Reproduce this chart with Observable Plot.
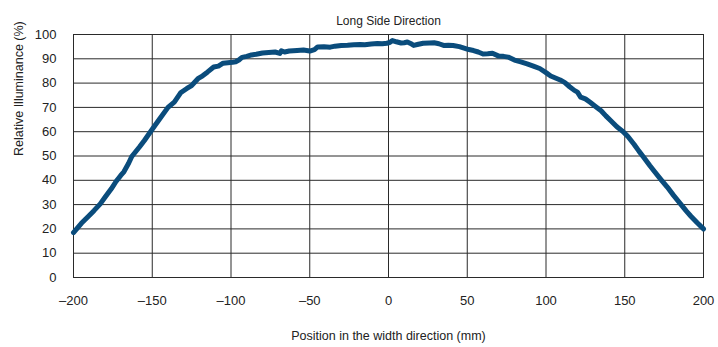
<!DOCTYPE html>
<html>
<head>
<meta charset="utf-8">
<script src="https://cdn.jsdelivr.net/npm/d3@7"></script>
<script src="https://cdn.jsdelivr.net/npm/@observablehq/plot@0.6"></script>
<style>
  body { margin: 0; background: #fff; }
  svg { font-family: "Liberation Sans", Arial, sans-serif; }
</style>
</head>
<body>
<div id="chart"></div>
<script>
const title = "Long Side Direction";
const xLabel = "Position in the width direction (mm)";
const yLabel = "Relative Illuminance (%)";
const xTicks = [-200, -150, -100, -50, 0, 50, 100, 150, 200];
const yTicks = [0, 10, 20, 30, 40, 50, 60, 70, 80, 90, 100];

const positions = [-200,-195,-190,-187,-183,-180,-176,-173,-170,-168,-165,-163,-158,-155,-150,-145,-140,-136,-132,-128,-125,-121,-118,-115,-111,-108,-105,-102,-99,-97,-95,-93,-90,-87,-84,-80,-76,-72,-69,-68,-66,-63,-58,-54,-50,-47,-45,-41,-37,-34,-30,-26,-22,-18,-15,-11,-7,-4,-1,1,2.5,5,8,10,12,14,16,19,22,26,29,32,35,38,41,45,48,51,54,57,60,63,66,70,73,76,80,84,88,92,96,100,103,106,109,112,115,118,120,122,125,128,131,135,138,141,145,149,152,156,159,162,166,169,173,177,181,185,189,192,196,200];
const illuminance = [18.5,22.3,25.5,27.5,30.3,33,36.5,39.5,42,43.5,47,49.8,53.8,56.4,61,65.5,70,72.2,76,77.8,79,81.8,83,84.5,86.6,87,88.2,88.4,88.6,88.8,89.5,90.6,91,91.6,91.9,92.4,92.6,92.8,92.2,93.3,92.8,93.2,93.4,93.6,93.2,93.8,94.9,95,94.8,95.2,95.5,95.6,95.8,95.9,95.8,96.1,96.3,96.2,96.4,96.8,97.5,97,96.5,96.6,96.9,96.3,95.5,96,96.4,96.5,96.6,96.2,95.5,95.6,95.5,95,94.4,93.8,93.4,92.8,92,92.1,92.3,91.1,91,90.7,89.5,88.7,87.9,87,86,84.3,82.9,82.1,81.3,80.2,78.5,77,76.3,74.2,73.5,72.1,70.6,68.6,66.5,64.6,62,60,58,54.7,52,49.5,46,43.5,40.3,37.2,33.8,30.6,27.4,25.2,22.5,20];

const data = positions.map((x, i) => ({x, y: illuminance[i]}));
const fmt = d => d < 0 ? "\u2013" + Math.abs(d) : String(d);

const chart = Plot.plot({
  width: 718,
  height: 347,
  marginLeft: 73,
  marginRight: 15,
  marginTop: 34,
  marginBottom: 70,
  style: {fontSize: "13px", color: "#222", background: "#fff"},
  x: {domain: [-200, 200], ticks: xTicks, tickFormat: fmt, tickSize: 0, tickPadding: 18, label: null},
  y: {domain: [0, 100], ticks: yTicks, tickSize: 0, tickPadding: 17, label: null},
  marks: [
    Plot.gridX(xTicks, {stroke: "#2a2a2a", strokeOpacity: 1, strokeWidth: 1}),
    Plot.gridY(yTicks, {stroke: "#2a2a2a", strokeOpacity: 1, strokeWidth: 1}),
    Plot.frame({stroke: "#2a2a2a", strokeWidth: 1}),
    Plot.line(data, {x: "x", y: "y", stroke: "#0a4c7c", strokeWidth: 5, strokeLinejoin: "round", strokeLinecap: "round"}),
    Plot.text([title], {frameAnchor: "top", dy: -18, fontSize: 12, fill: "#222"}),
    Plot.text([xLabel], {frameAnchor: "bottom", dy: 62, fontSize: 12.5, fill: "#222"}),
    Plot.text([yLabel], {frameAnchor: "left", dx: -55, rotate: -90, fontSize: 12.5, fill: "#222"})
  ]
});
document.getElementById("chart").appendChild(chart);
</script>
</body>
</html>
